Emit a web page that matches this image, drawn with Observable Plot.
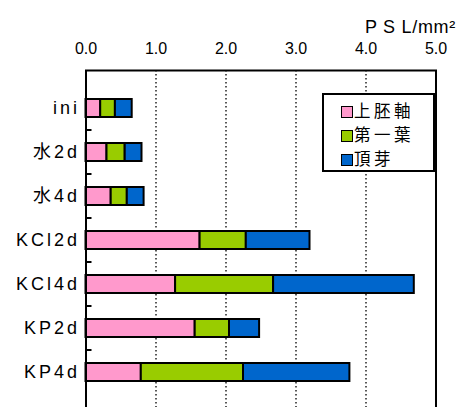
<!DOCTYPE html>
<html>
<head>
<meta charset="utf-8">
<script src="https://cdn.jsdelivr.net/npm/d3@7"></script>
<script src="https://cdn.jsdelivr.net/npm/@observablehq/plot@0.6"></script>
<style>
  html, body { margin: 0; padding: 0; background: #fff; }
  #wrap { position: relative; width: 463px; height: 407px; overflow: hidden; }
  #legend {
    position: absolute; left: 322px; top: 93px; width: 109px; height: 75px;
    border: 2px solid #000; background: #fff;
    font-family: "Noto Sans CJK JP", "Liberation Sans", sans-serif; font-size: 16.5px; color: #000;
    letter-spacing: 3.5px;
  }
  .item { position: absolute; left: 17px; height: 24px; line-height: 24px; white-space: nowrap; }
  .sw { display: inline-block; width: 10px; height: 10px; border: 1.5px solid #000; vertical-align: middle; margin-right: 1px; position: relative; top: -1px; }
  .ylab text { letter-spacing: 3px; }
  .unit text { letter-spacing: 0.7px; white-space: pre; }
</style>
</head>
<body>
<div id="wrap"></div>
<script>
const categories = ["ini", "水2d", "水4d", "KCl2d", "KCl4d", "KP2d", "KP4d"];
const parts = ["上胚軸", "第一葉", "頂芽"];
const hypocotyl = [0.21, 0.30, 0.36, 1.63, 1.28, 1.56, 0.79];
const firstLeaf = [0.21, 0.26, 0.23, 0.66, 1.40, 0.49, 1.46];
const apicalBud = [0.24, 0.24, 0.24, 0.91, 2.01, 0.43, 1.52];
const xTicks = [0, 1, 2, 3, 4, 5];
const gridTicks = [1, 2, 3, 4];
const colors = ["#ff99cc", "#99cc00", "#0066cc"];
const unitLabel = "P S L/mm²";

const series = [hypocotyl, firstLeaf, apicalBud];
const rows = [];
categories.forEach((c, i) => {
  parts.forEach((p, j) => rows.push({cat: c, part: p, value: series[j][i]}));
});

const H = 410, mTop = 70;

// small inward tick marks on the left axis, between categories
function separatorTicks(index, scales) {
  const {x, y} = scales;
  const bw = y.bandwidth ? y.bandwidth() : 0;
  const stp = y.step ? y.step() : 0;
  const g = d3.create("svg:g").attr("stroke", "#000").attr("stroke-width", 2);
  categories.slice(0, -1).forEach(c => {
    const yy = y(c) + bw / 2 + stp / 2;
    g.append("line")
      .attr("x1", x(0)).attr("x2", x(0) + 6)
      .attr("y1", yy).attr("y2", yy);
  });
  return g.node();
}

const chart = Plot.plot({
  width: 463,
  height: H,
  marginTop: mTop,
  marginLeft: 85.5,
  marginRight: 27.5,
  marginBottom: 0,
  style: {fontFamily: "'Liberation Sans', 'Noto Sans CJK JP', sans-serif", fontSize: "16px", color: "#000", background: "#fff"},
  x: {domain: [0, 5]},
  y: {domain: categories, padding: 0.59},
  color: {domain: parts, range: colors},
  marks: [
    Plot.ruleX(gridTicks, {stroke: "#000", strokeWidth: 1.3, strokeDasharray: "1.5,2.5"}),
    Plot.barX(rows, {x: "value", y: "cat", fill: "part", stroke: "#000", strokeWidth: 2}),
    Plot.frame({stroke: "#000", strokeWidth: 2}),
    Plot.axisX({anchor: "top", ticks: xTicks, tickSize: 0, tickPadding: 17, tickFormat: d3.format(".1f"), fontSize: 16, label: null}),
    Plot.axisY({anchor: "left", tickSize: 0, tickPadding: 6, fontSize: 18, label: null, className: "ylab"}),
    separatorTicks,
    Plot.text([unitLabel], {frameAnchor: "top-right", text: d => d, dx: 20, dy: -50, textAnchor: "end", fontSize: 18, className: "unit"})
  ]
});

const wrap = document.getElementById("wrap");
wrap.appendChild(chart);

const legend = document.createElement("div");
legend.id = "legend";
parts.forEach((p, j) => {
  const it = document.createElement("div");
  it.className = "item";
  it.style.top = (3 + j * 24) + "px";
  const sw = document.createElement("span");
  sw.className = "sw";
  sw.style.background = colors[j];
  it.appendChild(sw);
  it.appendChild(document.createTextNode(p));
  legend.appendChild(it);
});
wrap.appendChild(legend);
</script>
</body>
</html>
